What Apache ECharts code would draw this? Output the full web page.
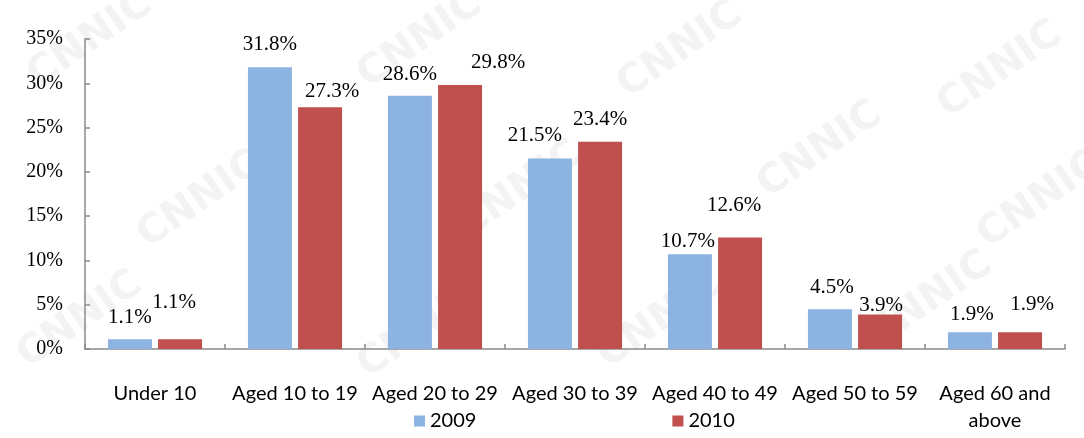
<!DOCTYPE html>
<html>
<head>
<meta charset="utf-8">
<script src="https://cdn.jsdelivr.net/npm/echarts@6/dist/echarts.min.js"></script>
<style>
html,body{margin:0;padding:0;background:#fff;}
#chart{width:1084px;height:438px;}
</style>
</head>
<body>
<div id="chart"></div>
<script>
const categories = ['Under 10','Aged 10 to 19','Aged 20 to 29','Aged 30 to 39','Aged 40 to 49','Aged 50 to 59','Aged 60 and\nabove'];
const series2009 = [1.1, 31.8, 28.6, 21.5, 10.7, 4.5, 1.9];
const series2010 = [1.1, 27.3, 29.8, 23.4, 12.6, 3.9, 1.9];
const yTicks = [0, 5, 10, 15, 20, 25, 30, 35];

// label nudges (pixels) to mimic the hand-placed data labels of the original
const shift2009 = [[0,-6],[0,-7],[0,-6],[-15,-8],[-2,3],[2,-6],[2,-2]];
const shift2010 = [[-6,-21],[12,0],[38,-7],[0,-7],[-6,-16],[1,7],[12,-12]];

function build(vals, shifts){
  return vals.map((v,i)=>({value:v,label:{offset:shifts[i]}}));
}

// faint background watermark text, as in the original image
const wmSpots = [[90,40],[420,40],[680,50],[1000,70],[200,200],[520,190],[820,150],[1040,200],[80,320],[420,330],[660,320],[930,300]];
const watermark = wmSpots.map(p=>({
  type:'text', x:p[0], y:p[1], rotation:0.6, z:-10, silent:true,
  style:{text:'CNNIC', fill:'#f3f3f3', font:'bold 40px "DejaVu Sans", sans-serif', align:'center', verticalAlign:'middle'}
}));

const chart = echarts.init(document.getElementById('chart'));
const labelStyle = {
  show:true, position:'top', distance:5,
  fontFamily:'"Liberation Serif","Times New Roman",serif', fontSize:21, color:'#000',
  formatter: p => p.value.toFixed(1)+'%'
};
chart.setOption({
  backgroundColor:'#fff',
  animation:false,
  grid:{left:85, right:19, top:39, bottom:89, containLabel:false},
  legend:{
    data:['2009','2010'], bottom:2, left:409,
    icon:'rect', itemWidth:11, itemHeight:11, itemGap:196,
    textStyle:{fontFamily:'Lato, sans-serif', fontSize:20, color:'#000'}
  },
  xAxis:{
    type:'category', data:categories,
    axisLine:{lineStyle:{color:'#8a8a8a', width:1.5}},
    axisTick:{show:true, inside:true, length:5, lineStyle:{color:'#8a8a8a', width:1.5}},
    axisLabel:{interval:0, margin:31, fontFamily:'Lato, sans-serif', fontSize:20, color:'#000', lineHeight:27}
  },
  yAxis:{
    type:'value', min:yTicks[0], max:yTicks[yTicks.length-1], interval:5,
    splitLine:{show:false},
    axisLine:{show:true, lineStyle:{color:'#8a8a8a', width:1.5}},
    axisTick:{show:true, inside:true, length:5, lineStyle:{color:'#8a8a8a', width:1.5}},
    axisLabel:{margin:22, fontFamily:'"Liberation Serif","Times New Roman",serif', fontSize:20, color:'#000', formatter:'{value}%'}
  },
  series:[
    {name:'2009', type:'bar', data:build(series2009, shift2009), barWidth:44, barGap:'14%',
     itemStyle:{color:'#8DB3E2'}, label:labelStyle},
    {name:'2010', type:'bar', data:build(series2010, shift2010), barWidth:44,
     itemStyle:{color:'#C0504D'}, label:labelStyle}
  ]
});
chart.setOption({graphic: watermark});
</script>
</body>
</html>
